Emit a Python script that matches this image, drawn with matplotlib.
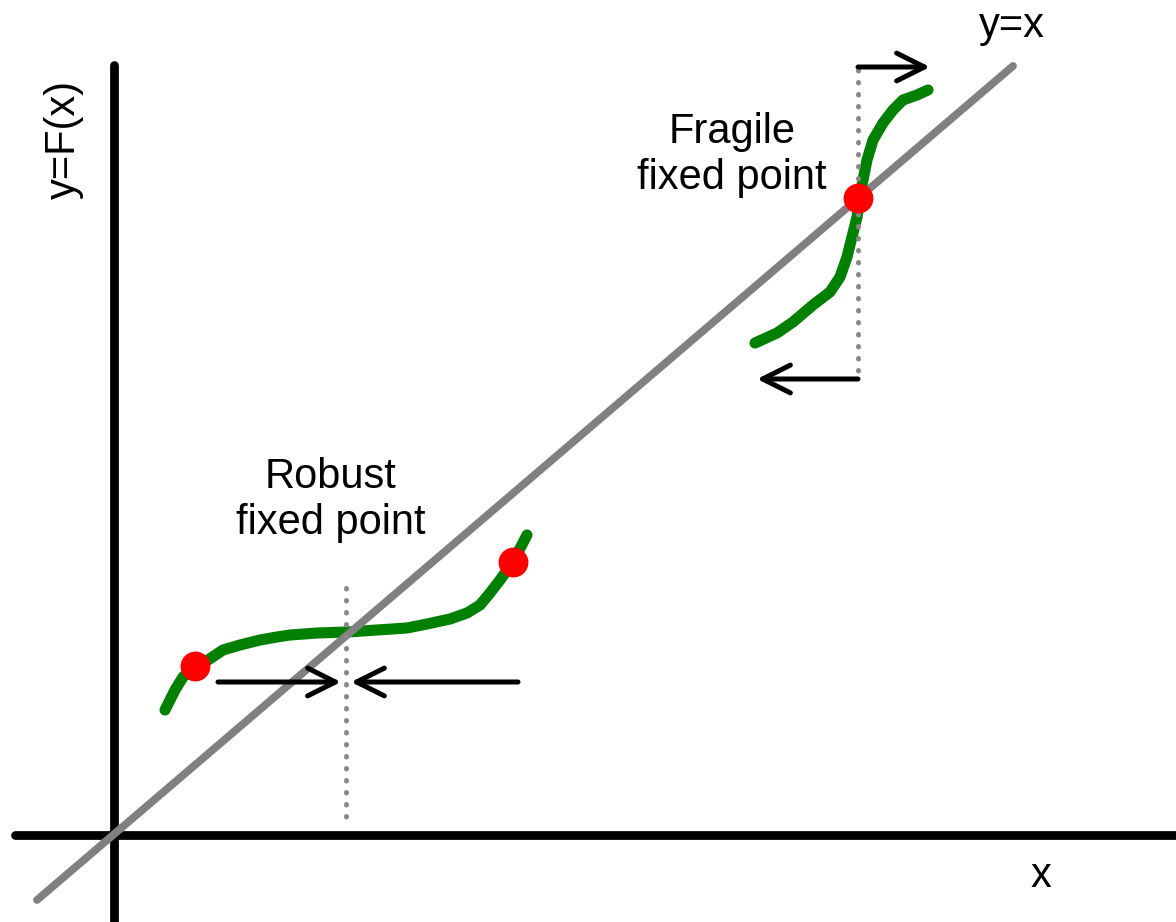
import matplotlib.pyplot as plt
from matplotlib.patches import FancyArrowPatch

plt.rcParams['font.family'] = ['Liberation Sans', 'DejaVu Sans']

# everything is in picture units: x to the right, y downwards
W, H = 1176, 922

# hand drawn map F(x), lower branch (robust fixed point)
robust_x = [165, 175, 183, 195, 208, 223, 240, 260, 277, 290, 317, 347, 377,
            407, 427, 450, 467, 480, 490, 500, 513, 527]
robust_y = [710, 690, 677, 667, 660, 650, 645, 640, 637, 635, 633, 632, 630,
            628, 624, 619, 613, 605, 593, 580, 562, 535]

# upper branch (fragile fixed point)
fragile_x = [755, 777, 793, 813, 830, 840, 847, 852, 857, 860, 863, 867, 873,
             883, 893, 903, 917, 928]
fragile_y = [343, 333, 322, 305, 292, 277, 257, 237, 217, 198, 180, 160, 140,
             123, 110, 100, 95, 90]

# fixed points / unstable points
dots_x = [195, 513, 858]
dots_y = [666, 562, 198]

# y = x diagonal, axes
diag_x = [37, 1013]
diag_y = [900, 66]
xaxis_x = [15, W + 10]
xaxis_y = [835, 835]
yaxis_x = [114, 114]
yaxis_y = [65, H + 10]

# dotted guides at the fixed points
guide_x = [346, 858]
guide_top = [588, 70]
guide_bot = [826, 378]

# arrows (start, end)
arrows = [((218, 682), (341, 682)),
          ((518, 682), (351, 682)),
          ((858, 67), (930, 67)),
          ((858, 379), (757, 379))]

fig = plt.figure(figsize=(W / 100, H / 100), dpi=100)
ax = fig.add_axes([0, 0, 1, 1])
ax.set_xlim(0, W)
ax.set_ylim(H, 0)
ax.axis('off')

ax.plot(xaxis_x, xaxis_y, color='black', lw=6.3, solid_capstyle='round', zorder=1)
ax.plot(yaxis_x, yaxis_y, color='black', lw=6.3, solid_capstyle='round', zorder=1)

ax.plot(robust_x, robust_y, color='#008000', lw=8, solid_capstyle='round',
        solid_joinstyle='round', zorder=2)
ax.plot(fragile_x, fragile_y, color='#008000', lw=8, solid_capstyle='round',
        solid_joinstyle='round', zorder=2)

ax.plot(diag_x, diag_y, color='#808080', lw=5.6, solid_capstyle='round', zorder=3)

for gx, gt, gb in zip(guide_x, guide_top, guide_bot):
    ax.plot([gx, gx], [gt, gb], color='#888888', lw=3.6, linestyle=(0, (0.1, 2.3)),
            dash_capstyle='round', zorder=4)

for (x0, y0), (x1, y1) in arrows:
    ar = FancyArrowPatch((x0, y0), (x1, y1),
                         arrowstyle='->,head_length=1.0,head_width=0.5',
                         mutation_scale=20, lw=3.6, color='black',
                         shrinkA=0, shrinkB=0, capstyle='round',
                         joinstyle='round', zorder=5)
    ax.add_patch(ar)

ax.plot(dots_x, dots_y, 'o', color='red', ms=21.5, mec='none', zorder=6)

ax.text(331, 500, 'Robust\nfixed point', fontsize=30, ha='center', va='center',
        linespacing=1.2)
ax.text(732, 155, 'Fragile\nfixed point', fontsize=30, ha='center', va='center',
        linespacing=1.2)
ax.text(1012, 26, 'y=x', fontsize=30, ha='center', va='center')
ax.text(1041, 876, 'x', fontsize=30, ha='center', va='center')
ax.text(64, 139, 'y=F(x)', fontsize=30, ha='center', va='center', rotation=90)

fig.savefig('out.png', dpi=100)
plt.close(fig)
